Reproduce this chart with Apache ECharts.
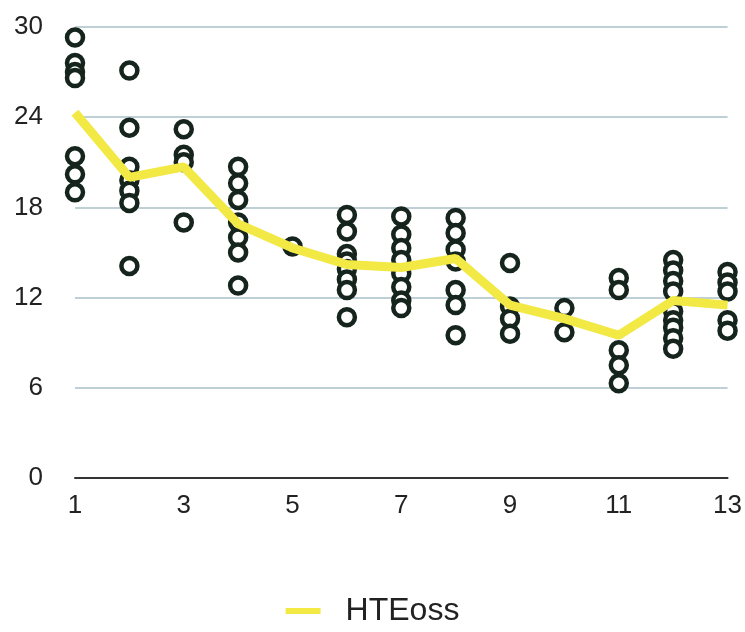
<!DOCTYPE html>
<html>
<head>
    <meta charset="utf-8">
    <script src="https://cdn.jsdelivr.net/npm/echarts@6/dist/echarts.min.js"></script>
    <style>
        html, body { margin: 0; padding: 0; background: #fff; }
        #main { width: 745px; height: 632px; }
    </style>
</head>
<body>
    <div id="main"></div>
    <script type="text/javascript">
        var myChart = echarts.init(document.getElementById('main'));

        var categories = ['1', '2', '3', '4', '5', '6', '7', '8', '9', '10', '11', '12', '13'];

        // yellow mean line
        var hteoss = [24.3, 20.0, 20.7, 16.9, 15.3, 14.2, 14.0, 14.6, 11.5, 10.6, 9.5, 11.8, 11.5];

        // individual observations per category
        var obs = [
            [29.3, 27.6, 27.0, 26.6, 21.4, 20.2, 19.0],
            [27.1, 23.3, 20.7, 19.8, 19.1, 18.3, 14.1],
            [23.2, 21.5, 21.0, 17.0],
            [20.7, 19.6, 18.5, 17.0, 16.0, 15.0, 12.8],
            [15.4],
            [17.5, 16.4, 14.9, 14.4, 13.9, 13.2, 12.5, 10.7],
            [17.4, 16.2, 15.3, 14.5, 13.6, 12.7, 11.8, 11.3],
            [17.3, 16.3, 15.2, 14.4, 12.5, 11.5, 9.5],
            [14.3, 11.4, 10.6, 9.6],
            [11.3, 9.7],
            [13.3, 12.5, 8.5, 7.5, 6.3],
            [14.5, 13.8, 13.1, 12.4, 11.1, 10.5, 10.0, 9.3, 8.6],
            [13.7, 13.0, 12.4, 10.5, 9.8]
        ];

        var points = [];
        for (var i = 0; i < obs.length; i++) {
            for (var j = 0; j < obs[i].length; j++) {
                points.push([categories[i], obs[i][j]]);
            }
        }

        var font = '"Liberation Sans", Arial, sans-serif';

        myChart.setOption({
            animation: false,
            grid: {
                left: 75,
                right: 17,
                top: 27,
                bottom: 154
            },
            legend: {
                data: [{ name: 'HTEoss', icon: 'rect' }],
                bottom: 0,
                left: 'center',
                itemWidth: 35,
                itemHeight: 6,
                textStyle: { fontSize: 32, color: '#222', fontFamily: font, padding: [0, 0, 0, 20] }
            },
            xAxis: {
                type: 'category',
                data: categories,
                boundaryGap: false,
                axisLine: { lineStyle: { color: '#333', width: 2 } },
                axisTick: { show: false },
                axisLabel: {
                    interval: 1,
                    margin: 15,
                    fontSize: 26,
                    color: '#222',
                    fontFamily: font
                },
                splitLine: { show: false }
            },
            yAxis: {
                type: 'value',
                min: 0,
                max: 30,
                interval: 6,
                axisLine: { show: false },
                axisTick: { show: false },
                axisLabel: {
                    margin: 32,
                    fontSize: 26,
                    color: '#222',
                    fontFamily: font
                },
                splitLine: { lineStyle: { color: '#a9bfc8', width: 1.5 } }
            },
            series: [
                {
                    name: 'obs',
                    type: 'scatter',
                    symbol: 'circle',
                    symbolSize: 16,
                    itemStyle: {
                        color: '#ffffff',
                        borderColor: '#15241c',
                        borderWidth: 4.5,
                        opacity: 1
                    },
                    z: 2,
                    data: points
                },
                {
                    name: 'HTEoss',
                    type: 'line',
                    symbol: 'none',
                    lineStyle: { color: '#f2e945', width: 9 },
                    itemStyle: { color: '#f2e945' },
                    z: 3,
                    data: hteoss
                }
            ]
        });
    </script>
</body>
</html>
